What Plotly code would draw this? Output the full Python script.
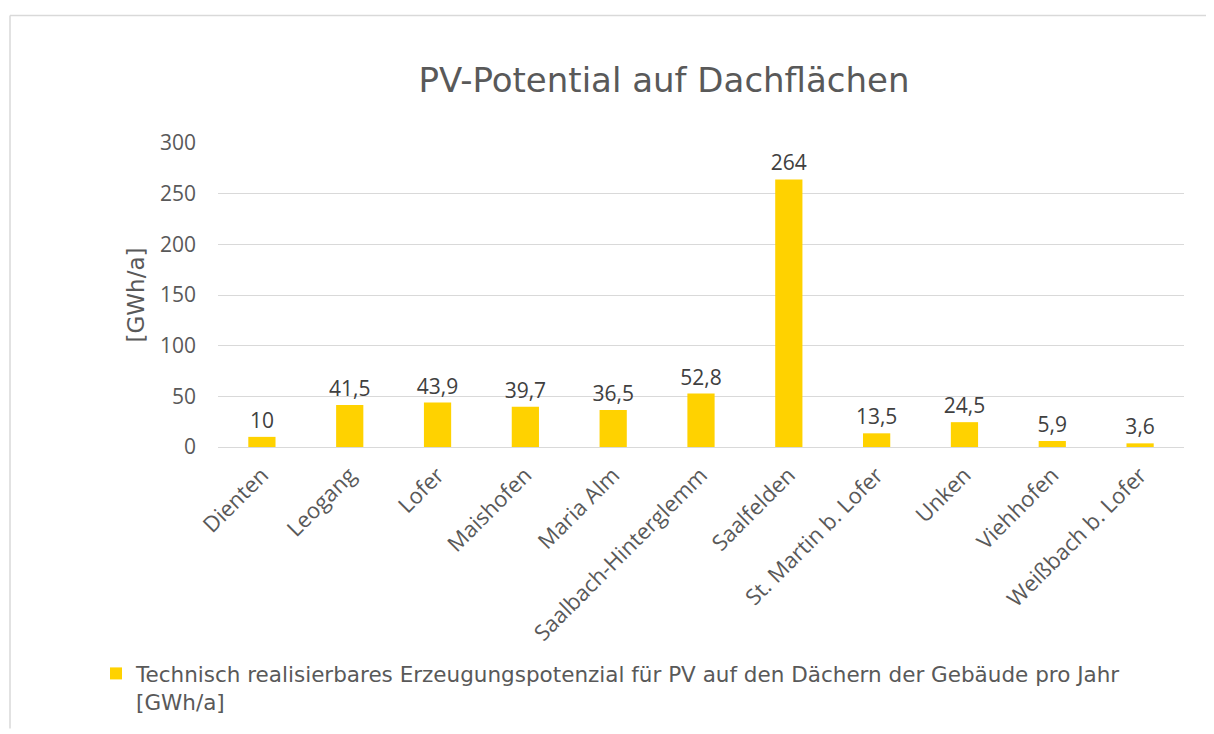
import plotly.graph_objects as go

categories = ["Dienten", "Leogang", "Lofer", "Maishofen", "Maria Alm",
              "Saalbach-Hinterglemm", "Saalfelden", "St. Martin b. Lofer",
              "Unken", "Viehhofen", "Weißbach b. Lofer"]
values = [10, 41.5, 43.9, 39.7, 36.5, 52.8, 264, 13.5, 24.5, 5.9, 3.6]
labels = [("%g" % v).replace(".", ",") for v in values]
series_name = "Technisch realisierbares Erzeugungspotenzial für PV auf den Dächern der Gebäude pro Jahr<br>[GWh/a]"
title_text = "PV-Potential auf Dachflächen"
y_title = "[GWh/a]"
y_ticks = [0, 50, 100, 150, 200, 250, 300]

OFF = 8  # default page body margin
W, H = 1214 - OFF, 734 - OFF
# plot area in page pixels: x 218..1184, y 143..453
L, R, T, B = 218 - OFF, W - (1184 - OFF), 143 - OFF, H - (453 - OFF)
pw, ph = W - L - R, H - T - B

def px(x):
    return (x - OFF - L) / pw

def py(y):
    return (H - B - (y - OFF)) / ph

grey = "#595959"
tah = "DejaVu Sans, Verdana, sans-serif"
body = "Open Sans, sans-serif"

fig = go.Figure()
fig.add_trace(go.Bar(
    x=categories, y=values, name=series_name,
    marker=dict(color="#FFD200", line=dict(width=0)),
    text=labels, textposition="outside", cliponaxis=False,
    constraintext="none",
    textfont=dict(family=body, size=21, color="#404040"),
))

fig.update_layout(
    width=W, height=H,
    margin=dict(l=L, r=R, t=T, b=B),
    paper_bgcolor="white", plot_bgcolor="white",
    bargap=0.69,
    showlegend=True,
    title=dict(text=title_text, x=(664 - OFF) / W, xanchor="center",
               y=1 - (80 - OFF) / H, yanchor="middle",
               font=dict(family=tah, size=34, color=grey)),
    xaxis=dict(tickangle=-45, showgrid=False, showline=False, ticks="",
               ticklabelstandoff=10,
               tickfont=dict(family=body, size=22, color=grey)),
    yaxis=dict(range=[0, 300], tickvals=y_ticks, showgrid=True,
               gridcolor="#D9D9D9", gridwidth=1, zeroline=True,
               zerolinecolor="#D9D9D9", zerolinewidth=1, ticks="",
               ticklabelstandoff=21,
               tickfont=dict(family=body, size=21, color=grey),
               title=dict(text=y_title, standoff=8,
                          font=dict(family=tah, size=23, color=grey))),
    legend=dict(x=px(96), y=py(663), xanchor="left", yanchor="top",
                valign="top", bgcolor="rgba(0,0,0,0)",
                itemwidth=30,
                font=dict(family=tah, size=21.5, color=grey)),
    shapes=[
        dict(type="line", xref="paper", yref="paper", x0=px(10), x1=px(1220),
             y0=py(13), y1=py(13), line=dict(color="#D9D9D9", width=1.5)),
        dict(type="line", xref="paper", yref="paper", x0=px(10), x1=px(10),
             y0=py(13), y1=py(740), line=dict(color="#D9D9D9", width=1.5)),
    ],
)

fig.write_html("out.html")
